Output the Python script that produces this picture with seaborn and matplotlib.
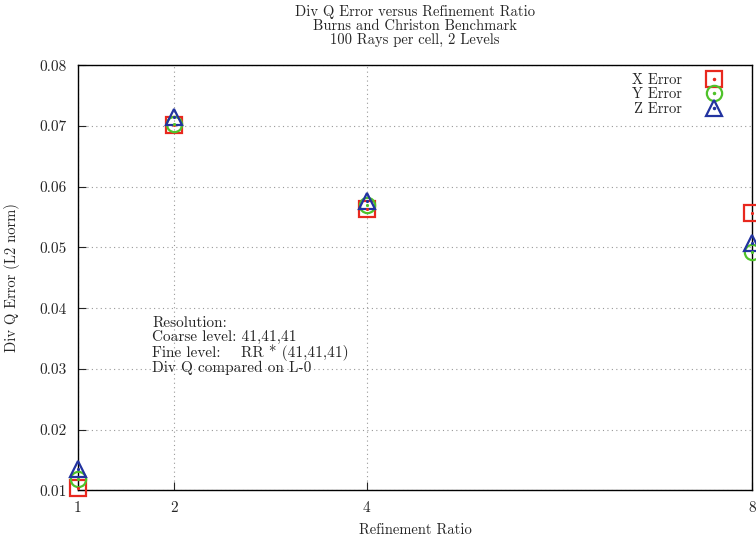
import pandas as pd
import numpy as np
import seaborn as sns
import matplotlib.pyplot as plt
from matplotlib.legend_handler import HandlerTuple

refinement = [1, 2, 4, 8]
x_error = [0.0104, 0.0701, 0.0563, 0.0556]
y_error = [0.0119, 0.0704, 0.0570, 0.0492]
z_error = [0.0135, 0.0715, 0.0576, 0.0507]

series = [("X Error", x_error, "s", "#e8281e", 11),
          ("Y Error", y_error, "o", "#4fc22a", 11),
          ("Z Error", z_error, "^", "#2233a0", 12)]

sns.set_style("ticks")
plt.rcParams['font.family'] = ['cmr10', 'DejaVu Serif']
plt.rcParams['axes.formatter.use_mathtext'] = True
plt.rcParams['mathtext.fontset'] = 'cm'

fig, ax = plt.subplots(figsize=(7.56, 5.39), dpi=100)
fig.subplots_adjust(left=0.103, right=0.995, top=0.879, bottom=0.09)

handles = []
for name, vals, mk, col, ms in series:
    df = pd.DataFrame({"rr": refinement, "err": vals})
    sns.lineplot(data=df, x="rr", y="err", ax=ax, linestyle="", marker=mk,
                 markersize=ms, markerfacecolor="none", markeredgecolor=col,
                 markeredgewidth=1.6, color=col, zorder=3, clip_on=False)
    sns.lineplot(data=df, x="rr", y="err", ax=ax, linestyle="", marker=".",
                 markersize=3, markerfacecolor=col, markeredgecolor=col,
                 color=col, zorder=4, clip_on=False)
    h1, = ax.plot([], [], linestyle="", marker=mk, markersize=ms,
                  markerfacecolor="none", markeredgecolor=col, markeredgewidth=1.6)
    h2, = ax.plot([], [], linestyle="", marker=".", markersize=3, color=col)
    handles.append(((h1, h2), name))

ax.set_xlim(1, 8)
ax.set_ylim(0.01, 0.08)
ax.set_xticks(refinement)
ax.set_xticklabels([str(r) for r in refinement])
ax.set_yticks(np.arange(0.01, 0.081, 0.01))
ax.set_yticklabels(["%.2f" % v for v in np.arange(0.01, 0.081, 0.01)])
ax.tick_params(direction="in", length=6, labelsize=11, top=False, right=False, pad=8)
ax.grid(True, linestyle=(0, (1, 3)), color="#999999", linewidth=0.8)
for s in ax.spines.values():
    s.set_linewidth(1.0)
    s.set_color("black")

ax.set_xlabel("Refinement Ratio", fontsize=10.5, labelpad=6)
ax.set_ylabel("Div Q Error (L2 norm)", fontsize=10.5, labelpad=14)
ax.set_title("Div Q Error versus Refinement Ratio\nBurns and Christon Benchmark\n100 Rays per cell, 2 Levels",
             fontsize=10.5, linespacing=1.05, pad=15)

ax.text(1.77, 0.0387, "Resolution:\nCoarse level: 41,41,41\nFine level:    RR * (41,41,41)\nDiv Q compared on L-0",
        fontsize=11, va="top", ha="left", linespacing=1.0)

leg = ax.legend([h for h, _ in handles], [n for _, n in handles],
                handler_map={tuple: HandlerTuple(ndivide=1, pad=0)},
                loc="upper right", frameon=False, markerfirst=False,
                fontsize=10.5, handletextpad=1.6, labelspacing=0.05,
                borderaxespad=0.0, handlelength=1.2,
                bbox_to_anchor=(0.965, 0.995))

fig.savefig("out.png", dpi=100)
